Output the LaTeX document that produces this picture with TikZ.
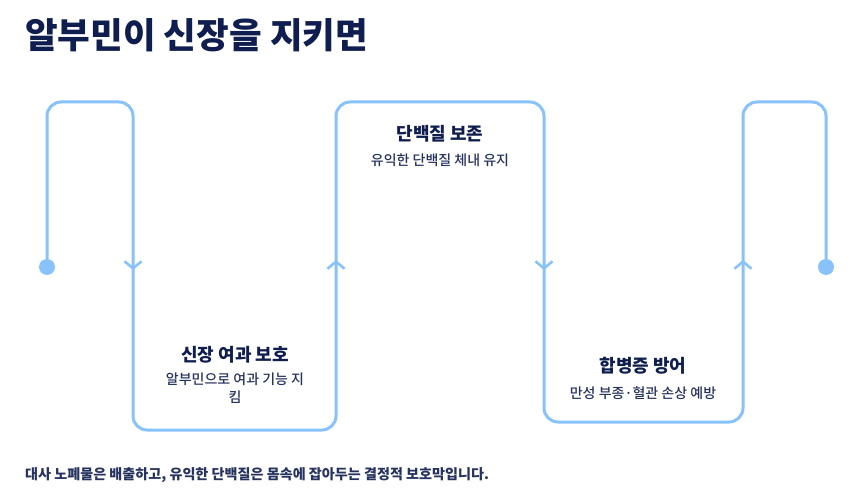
\documentclass[tikz,border=0pt]{standalone}
\usepackage{fontspec}
\setmainfont{Noto Sans CJK KR}
\newfontfamily\krmedium{Noto Sans CJK KR Medium}
\usetikzlibrary{arrows.meta}
\definecolor{flow}{HTML}{88C2FA}
\definecolor{navy}{HTML}{0F1E4F}
\definecolor{subnavy}{HTML}{26335F}
\tikzset{
    flow line/.style={draw=flow, line width=3pt, rounded corners=14pt}, % the snake path
    dot/.style={circle, fill=flow, inner sep=0pt, minimum size=16pt}, % both ends
    chevron/.style={draw=flow, line width=2.6pt, -{Straight Barb[length=7pt,width=17pt]}}, % direction marks
    steptitle/.style={font=\bfseries\fontsize{18}{20}\selectfont, text=navy, inner sep=0pt},
    steptext/.style={font=\krmedium\fontsize{14}{18}\selectfont, text=subnavy, inner sep=0pt, align=center},
}
\begin{document}
\begin{tikzpicture}[x=1pt, y=-1pt]
    \useasboundingbox (0,0) rectangle (854,502);
    \node[anchor=west, font=\bfseries\fontsize{35.5}{40}\selectfont, text=navy, inner sep=0pt] (head) at (25,35) {알부민이 신장을 지키면};

    \node[dot] (s) at (47,267) {};
    \node[dot] (e) at (826,267) {};
    \draw[flow line] (s) -- (47,102) coordinate (c1) -- (133,102) coordinate (c2)
        -- (133,430) coordinate (c3) -- (336,430) coordinate (c4)
        -- (336,102) coordinate (c5) -- (544,102) coordinate (c6)
        -- (544,422) coordinate (c7) -- (743,422) coordinate (c8)
        -- (743,102) coordinate (c9) -- (826,102) coordinate (c10) -- (e);

    \draw[chevron] (133,258) -- (133,270);
    \draw[chevron] (336,272) -- (336,260);
    \draw[chevron] (544,258) -- (544,270);
    \draw[chevron] (743,272) -- (743,260);

    \node[steptitle] (t1) at (235,355) {신장 여과 보호};
    \node[steptext, anchor=north] (d1) at (235,373) {알부민으로 여과 기능 지\\킴};
    \node[steptitle] (t2) at (440,134) {단백질 보존};
    \node[steptext] (d2) at (440,160) {유익한 단백질 체내 유지};
    \node[steptitle] (t3) at (643,366) {합병증 방어};
    \node[steptext] (d3) at (643,393) {만성 부종·혈관 손상 예방};

    \node[anchor=west, font=\bfseries\fontsize{14.1}{16}\selectfont, text=subnavy, inner sep=0pt] (note) at (25,475) {대사 노폐물은 배출하고, 유익한 단백질은 몸속에 잡아두는 결정적 보호막입니다.};
\end{tikzpicture}
\end{document}
